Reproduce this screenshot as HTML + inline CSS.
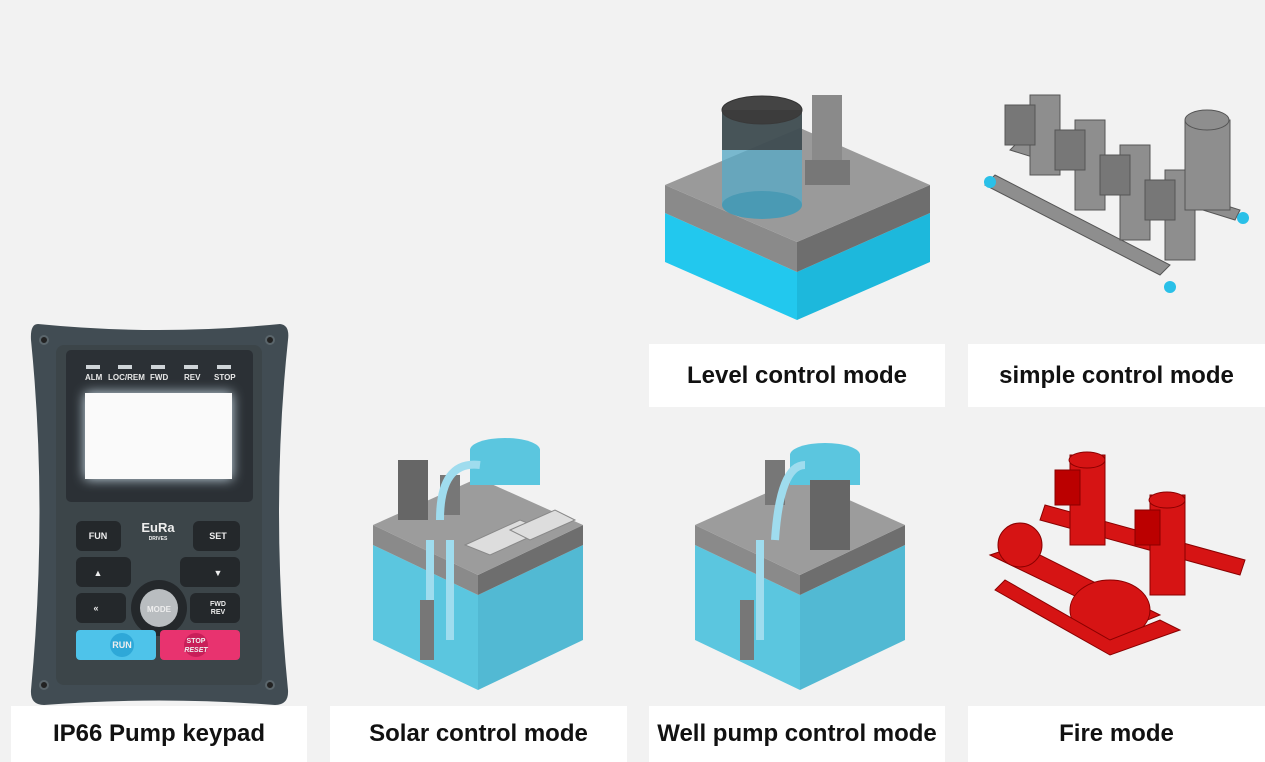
<!DOCTYPE html>
<html><head><meta charset="utf-8"><style>
body{margin:0;width:1265px;height:762px;background:#f2f2f2;position:relative;overflow:hidden;font-family:"Liberation Sans",sans-serif}
.lab{position:absolute;background:#fff;font-weight:bold;font-size:24px;color:#111;display:flex;align-items:center;justify-content:center}
.k{position:absolute}
</style></head><body>
<div class="lab" style="left:649px;top:344px;width:296px;height:63px">Level control mode</div>
<div class="lab" style="left:968px;top:344px;width:297px;height:63px">simple control mode</div>
<div class="lab" style="left:11px;top:706px;width:296px;height:56px">IP66 Pump keypad</div>
<div class="lab" style="left:330px;top:706px;width:297px;height:56px">Solar control mode</div>
<div class="lab" style="left:649px;top:706px;width:296px;height:56px">Well pump control mode</div>
<div class="lab" style="left:968px;top:706px;width:297px;height:56px">Fire mode</div>

<svg width="1265" height="762" style="position:absolute;left:0;top:0">
<!-- Level control -->
<polygon points="665,213 797,272 797,320 665,262" fill="#22c8ee"/>
<polygon points="797,272 930,213 930,262 797,320" fill="#1db8dc"/>
<polygon points="665,185 797,242 797,272 665,213" fill="#8a8a8a"/>
<polygon points="797,242 930,185 930,213 797,272" fill="#6e6e6e"/>
<polygon points="665,185 800,128 930,185 797,242" fill="#9a9a9a"/>
<rect x="722" y="110" width="80" height="95" fill="#5aa9c4" opacity=".8"/>
<ellipse cx="762" cy="110" rx="40" ry="14" fill="#444" stroke="#333"/>
<ellipse cx="762" cy="205" rx="40" ry="14" fill="#4a9ab4"/>
<rect x="722" y="110" width="80" height="40" fill="#3b3b3b" opacity=".8"/>
<rect x="812" y="95" width="30" height="70" fill="#8a8a8a"/><rect x="805" y="160" width="45" height="25" fill="#777"/>
<!-- simple -->
<g fill="#8e8e8e" stroke="#555">
<polygon points="985,185 1160,275 1170,265 995,175"/>
<polygon points="1010,150 1235,220 1240,210 1020,140"/>
<rect x="1030" y="95" width="30" height="80"/><rect x="1075" y="120" width="30" height="90"/>
<rect x="1120" y="145" width="30" height="95"/><rect x="1165" y="170" width="30" height="90"/>
<rect x="1185" y="120" width="45" height="90"/><ellipse cx="1207" cy="120" rx="22" ry="10"/>
<rect x="1005" y="105" width="30" height="40" fill="#777"/><rect x="1055" y="130" width="30" height="40" fill="#777"/>
<rect x="1100" y="155" width="30" height="40" fill="#777"/><rect x="1145" y="180" width="30" height="40" fill="#777"/>
</g>
<circle cx="990" cy="182" r="6" fill="#2ac0e8"/><circle cx="1243" cy="218" r="6" fill="#2ac0e8"/><circle cx="1170" cy="287" r="6" fill="#2ac0e8"/>
<!-- Solar -->
<polygon points="373,545 478,595 478,690 373,640" fill="#5bc6df"/>
<polygon points="478,595 583,545 583,640 478,690" fill="#52b9d3"/>
<polygon points="373,525 478,575 478,595 373,545" fill="#8a8a8a"/>
<polygon points="478,575 583,525 583,545 478,595" fill="#6e6e6e"/>
<polygon points="373,525 478,478 583,525 478,575" fill="#9c9c9c"/>
<ellipse cx="505" cy="450" rx="35" ry="12" fill="#5bc6df"/><rect x="470" y="450" width="70" height="35" fill="#5bc6df"/>
<rect x="398" y="460" width="30" height="60" fill="#666"/><rect x="440" y="475" width="20" height="40" fill="#777"/>
<polygon points="465,545 520,520 545,530 490,555" fill="#ddd" stroke="#888"/>
<polygon points="510,530 555,510 575,520 530,540" fill="#ddd" stroke="#888"/>
<path d="M430,540 L430,640 M450,540 L450,640 M440,520 Q440,460 480,465" stroke="#9fdcee" stroke-width="8" fill="none"/>
<rect x="420" y="600" width="14" height="60" fill="#777"/>
<!-- Well -->
<polygon points="695,545 800,595 800,690 695,640" fill="#5bc6df"/>
<polygon points="800,595 905,545 905,640 800,690" fill="#52b9d3"/>
<polygon points="695,525 800,575 800,595 695,545" fill="#8a8a8a"/>
<polygon points="800,575 905,525 905,545 800,595" fill="#6e6e6e"/>
<polygon points="695,525 800,478 905,525 800,575" fill="#9c9c9c"/>
<ellipse cx="825" cy="455" rx="35" ry="12" fill="#5bc6df"/><rect x="790" y="455" width="70" height="30" fill="#5bc6df"/>
<rect x="810" y="480" width="40" height="70" fill="#666"/><rect x="765" y="460" width="20" height="45" fill="#777"/>
<path d="M760,540 L760,640 M775,540 Q780,465 805,465" stroke="#9fdcee" stroke-width="8" fill="none"/>
<rect x="740" y="600" width="14" height="60" fill="#777"/>
<!-- Fire -->
<g fill="#d61414" stroke="#8a0000">
<polygon points="990,555 1135,625 1160,615 1020,545"/>
<polygon points="1040,520 1240,575 1245,560 1045,505"/>
<rect x="1070" y="455" width="35" height="90"/><ellipse cx="1087" cy="460" rx="18" ry="8"/>
<rect x="1150" y="495" width="35" height="100"/><ellipse cx="1167" cy="500" rx="18" ry="8"/>
<rect x="1055" y="470" width="25" height="35" fill="#b00"/><rect x="1135" y="510" width="25" height="35" fill="#b00"/>
<ellipse cx="1110" cy="610" rx="40" ry="30"/><circle cx="1020" cy="545" r="22"/>
<polygon points="995,590 1110,655 1180,630 1160,620 1110,640 1005,580"/>
</g>
<!-- keypad -->
<path d="M38,324 Q159,336 280,324 Q290,325 288,340 Q270,510 288,690 Q289,705 275,705 Q159,696 44,705 Q30,705 31,690 Q48,510 31,340 Q30,324 38,324Z" fill="#414c53"/>
<rect x="56" y="345" width="206" height="340" rx="8" fill="#3c4549"/>
<rect x="66" y="350" width="187" height="152" rx="5" fill="#2b3035"/>
<rect x="85" y="393" width="147" height="86" fill="#fafafa" style="filter:drop-shadow(0 0 6px #cfe2ee)"/>
<g fill="#cfd4d8"><rect x="86" y="365" width="14" height="4"/><rect x="118" y="365" width="14" height="4"/><rect x="151" y="365" width="14" height="4"/><rect x="184" y="365" width="14" height="4"/><rect x="217" y="365" width="14" height="4"/></g>
<g fill="#e8e8e8" font-size="8" font-weight="bold" font-family="Liberation Sans"><text x="85" y="380">ALM</text><text x="108" y="380">LOC/REM</text><text x="150" y="380">FWD</text><text x="184" y="380">REV</text><text x="214" y="380">STOP</text></g>
<g fill="#24282b"><rect x="76" y="521" width="45" height="30" rx="6"/><rect x="193" y="521" width="47" height="30" rx="6"/>
<rect x="76" y="557" width="55" height="30" rx="6"/><rect x="180" y="557" width="60" height="30" rx="6"/>
<rect x="76" y="593" width="50" height="30" rx="6"/><rect x="190" y="593" width="50" height="30" rx="6"/>
<circle cx="159" cy="608" r="28"/></g>
<circle cx="159" cy="608" r="19" fill="#b9bdc0"/>
<rect x="76" y="630" width="80" height="30" rx="4" fill="#4ec3ea"/><rect x="160" y="630" width="80" height="30" rx="4" fill="#e8336f"/>
<circle cx="122" cy="645" r="12" fill="#2ea8d8"/><circle cx="196" cy="645" r="12" fill="#c81f59"/>
<g fill="#eee" font-size="9" font-weight="bold" font-family="Liberation Sans" text-anchor="middle">
<text x="98" y="539">FUN</text><text x="218" y="539">SET</text><text x="98" y="576">▲</text><text x="218" y="576">▼</text><text x="96" y="611">«</text>
<text x="218" y="606" font-size="7">FWD</text><text x="218" y="614" font-size="7">REV</text><text x="159" y="612" font-size="8">MODE</text>
<text x="122" y="648">RUN</text><text x="196" y="643" font-size="7">STOP</text><text x="196" y="652" font-size="7" font-style="italic">RESET</text>
<text x="158" y="532" font-size="13">EuRa</text><text x="158" y="540" font-size="5">DRIVES</text></g>
<g fill="#222" stroke="#5a656b" stroke-width="2"><circle cx="44" cy="340" r="4"/><circle cx="270" cy="340" r="4"/><circle cx="44" cy="685" r="4"/><circle cx="270" cy="685" r="4"/></g>
</svg>
</body></html>
